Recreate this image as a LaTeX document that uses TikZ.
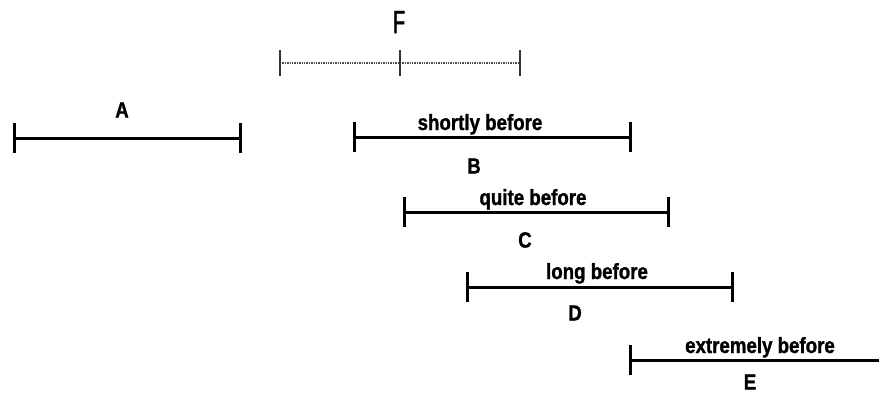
\documentclass[tikz,border=0pt]{standalone}
\usepackage{fontspec}
\setmainfont{Liberation Sans}
\newfontfamily\narrowbold[FakeStretch=0.85,FakeBold=1.2]{Liberation Sans Bold}
\newfontfamily\narrowplain[FakeStretch=0.62,FakeBold=1.5]{Liberation Sans}
\begin{document}
\begin{tikzpicture}[x=1pt,y=-1pt,
  bar/.style={line width=3pt},
  tick/.style={line width=3pt},
  dotbar/.style={line width=2.6pt,draw=black!70,dash pattern=on 1.3pt off 1.1pt},
  dottick/.style={line width=2.4pt,draw=black!80},
  lbl/.style={font=\narrowbold\fontsize{22}{24}\selectfont,inner sep=0pt},
  over/.style={lbl,anchor=base}]
\useasboundingbox (0,0) rectangle (879,399);

% reference interval F (dotted)
\node[font=\narrowplain\fontsize{32}{34}\selectfont,inner sep=0pt] (F) at (399,22) {F};
\coordinate (f1) at (280,63);
\coordinate (f2) at (400,63);
\coordinate (f3) at (520,63);
\draw[dotbar] (f1) -- (f3);
\foreach \p in {f1,f2,f3}
  \draw[dottick] ([yshift=-13pt]\p) -- ([yshift=13pt]\p);

% interval A
\coordinate (a1) at (14,138);
\coordinate (a2) at (240,138);
\draw[bar] (a1) -- (a2);
\foreach \p in {a1,a2} \draw[tick] ([yshift=-15pt]\p) -- ([yshift=15pt]\p);
\node[lbl] (A) at (122,110) {A};

% interval B
\coordinate (b1) at (354,137);
\coordinate (b2) at (630,137);
\draw[bar] (b1) -- (b2);
\foreach \p in {b1,b2} \draw[tick] ([yshift=-15pt]\p) -- ([yshift=15pt]\p);
\node[over] (bt) at (480,130) {shortly before};
\node[lbl] (B) at (474,166) {B};

% interval C
\coordinate (c1) at (404,212);
\coordinate (c2) at (668,212);
\draw[bar] (c1) -- (c2);
\foreach \p in {c1,c2} \draw[tick] ([yshift=-15pt]\p) -- ([yshift=15pt]\p);
\node[over] (ct) at (533,205) {quite before};
\node[lbl] (C) at (525,240) {C};

% interval D
\coordinate (d1) at (467,287);
\coordinate (d2) at (732,287);
\draw[bar] (d1) -- (d2);
\foreach \p in {d1,d2} \draw[tick] ([yshift=-15pt]\p) -- ([yshift=15pt]\p);
\node[over] (dt) at (597,279) {long before};
\node[lbl] (D) at (575,313) {D};

% interval E (runs past the right edge)
\coordinate (e1) at (630,360);
\coordinate (e2) at (879,360);
\draw[bar] (e1) -- (e2);
\draw[tick] ([yshift=-15pt]e1) -- ([yshift=15pt]e1);
\node[over] (et) at (760,353) {extremely before};
\node[lbl] (E) at (750,382) {E};
\end{tikzpicture}
\end{document}
